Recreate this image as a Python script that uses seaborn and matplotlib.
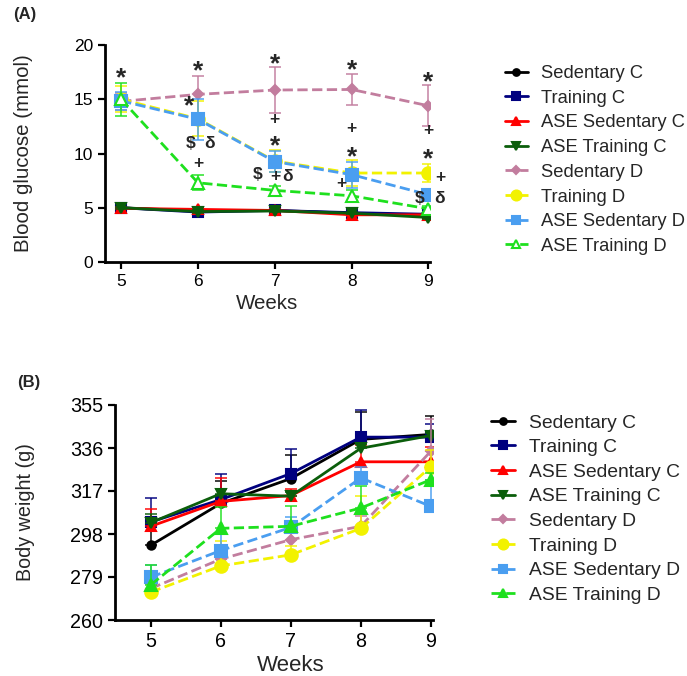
import numpy as np
import pandas as pd
import matplotlib
matplotlib.use('Agg')
import matplotlib.pyplot as plt
import seaborn as sns

sns.set_theme(style='ticks')
plt.rcParams['font.family'] = ['Liberation Sans', 'DejaVu Sans']

weeks = [5, 6, 7, 8, 9]
groups = ['Sedentary C', 'Training C', 'ASE Sedentary C', 'ASE Training C',
          'Sedentary D', 'Training D', 'ASE Sedentary D', 'ASE Training D']

# Panel A: blood glucose (mmol), mean and SEM
glu_sed_c = [5.0, 4.7, 4.75, 4.5, 4.3]
glu_tr_c = [5.0, 4.6, 4.75, 4.55, 4.4]
glu_ase_sed_c = [4.95, 4.85, 4.75, 4.35, 4.35]
glu_ase_tr_c = [5.0, 4.65, 4.7, 4.5, 4.1]
glu_sed_d = [14.8, 15.45, 15.85, 15.9, 14.4]
glu_tr_d = [15.0, 13.2, 9.3, 8.2, 8.2]
glu_ase_sed_d = [14.85, 13.15, 9.25, 8.05, 6.2]
glu_ase_tr_d = [15.0, 7.3, 6.6, 6.1, 4.9]

glu_err_sed_c = [0.1, 0.1, 0.1, 0.1, 0.1]
glu_err_tr_c = [0.1, 0.1, 0.1, 0.1, 0.1]
glu_err_ase_sed_c = [0.1, 0.1, 0.1, 0.1, 0.1]
glu_err_ase_tr_c = [0.1, 0.1, 0.1, 0.1, 0.1]
glu_err_sed_d = [0.8, 1.7, 2.1, 1.4, 1.9]
glu_err_tr_d = [1.2, 1.6, 1.0, 1.2, 0.8]
glu_err_ase_sed_d = [0.8, 1.9, 1.0, 1.2, 0.3]
glu_err_ase_tr_d = [1.5, 0.7, 0.4, 0.5, 0.3]

# Panel B: body weight (g), mean and SEM (drawn upward)
wt_sed_c = [293.0, 311.5, 322.5, 339.8, 342.0]
wt_tr_c = [303.3, 313.2, 324.7, 340.8, 340.8]
wt_ase_sed_c = [301.4, 312.4, 315.0, 329.9, 329.9]
wt_ase_tr_c = [303.0, 315.8, 314.7, 335.9, 341.5]
wt_sed_d = [273.9, 286.9, 295.5, 301.4, 334.6]
wt_tr_d = [272.3, 283.9, 288.8, 300.5, 327.7]
wt_ase_sed_d = [278.9, 290.7, 300.9, 322.8, 310.2]
wt_ase_tr_d = [275.5, 300.5, 301.4, 309.5, 322.0]

wt_err_sed_c = [10.0, 10.0, 10.5, 12.0, 8.3]
wt_err_tr_c = [10.8, 11.5, 10.8, 11.8, 5.6]
wt_err_ase_sed_c = [7.8, 10.3, 3.0, 7.4, 6.4]
wt_err_ase_tr_c = [4.0, 2.0, 2.0, 2.0, 1.0]
wt_err_sed_d = [2.0, 3.0, 3.0, 4.7, 14.0]
wt_err_tr_d = [6.0, 10.8, 4.0, 14.3, 7.4]
wt_err_ase_sed_d = [5.5, 7.8, 4.7, 5.0, 11.5]
wt_err_ase_tr_d = [9.0, 9.6, 8.9, 9.9, 3.0]

glu_means = [glu_sed_c, glu_tr_c, glu_ase_sed_c, glu_ase_tr_c,
             glu_sed_d, glu_tr_d, glu_ase_sed_d, glu_ase_tr_d]
glu_errs = [glu_err_sed_c, glu_err_tr_c, glu_err_ase_sed_c, glu_err_ase_tr_c,
            glu_err_sed_d, glu_err_tr_d, glu_err_ase_sed_d, glu_err_ase_tr_d]
wt_means = [wt_sed_c, wt_tr_c, wt_ase_sed_c, wt_ase_tr_c,
            wt_sed_d, wt_tr_d, wt_ase_sed_d, wt_ase_tr_d]
wt_errs = [wt_err_sed_c, wt_err_tr_c, wt_err_ase_sed_c, wt_err_ase_tr_c,
           wt_err_sed_d, wt_err_tr_d, wt_err_ase_sed_d, wt_err_ase_tr_d]

# Significance annotations for panel A: (symbol, week position, glucose level)
ann_symbols = ['*', '*', '*', '$', 'δ', '+',
               '*', '+', '*', '$', '+', 'δ',
               '*', '+', '*', '+',
               '*', '+', '*', '+', '$', 'δ']
ann_weeks = [5.0, 6.0, 5.88, 5.91, 6.15, 6.0,
             7.0, 7.0, 7.0, 6.77, 7.01, 7.17,
             8.0, 8.0, 8.0, 7.87,
             9.0, 9.0, 9.0, 9.16, 8.89, 9.15]
ann_levels = [17.4, 18.1, 14.9, 10.9, 10.9, 9.1,
              18.7, 13.1, 11.2, 8.1, 7.9, 7.9,
              18.2, 12.3, 10.2, 7.2,
              17.1, 12.1, 10.0, 7.8, 5.85, 5.85]

colors = ['#000000', '#00007F', '#FF0000', '#0B5E0B',
          '#C27D9E', '#F2F200', '#4A9EF0', '#1EE01E']
markers = ['o', 's', '^', 'v', 'D', 'o', 's', '^']
msizes = [6, 7, 7, 7, 5, 9, 8, 8]
lstyles = ['-', '-', '-', '-', '--', '--', '--', '--']

W, H = 687, 676
fig = plt.figure(figsize=(W / 100, H / 100), dpi=100)
axA = fig.add_axes([105 / W, 1 - 262 / H, 325 / W, 217 / H])
axB = fig.add_axes([115 / W, 1 - 620 / H, 318 / W, 215 / H])


def draw(ax, means, errs, upward, open_last):
    for i, g in enumerate(groups):
        df = pd.DataFrame({'week': weeks, 'value': means[i]})
        if upward:
            yerr = [np.zeros(len(weeks)), errs[i]]
        else:
            yerr = errs[i]
        ax.errorbar(df['week'], df['value'], yerr=yerr, fmt='none',
                    ecolor=colors[i], elinewidth=1.4, capsize=4, capthick=1.4,
                    alpha=0.75, zorder=2 + i)
        mfc = 'white' if (open_last and i == 7) else colors[i]
        sns.lineplot(data=df, x='week', y='value', ax=ax, color=colors[i],
                     marker=markers[i], markersize=msizes[i], linestyle=lstyles[i],
                     lw=2, markerfacecolor=mfc, markeredgecolor=colors[i],
                     markeredgewidth=1.5, label=g, zorder=3 + i)


draw(axA, glu_means, glu_errs, upward=False, open_last=True)
draw(axB, wt_means, wt_errs, upward=True, open_last=False)

for ax in (axA, axB):
    sns.despine(ax=ax)
    for s in ('left', 'bottom'):
        ax.spines[s].set_linewidth(2)
        ax.spines[s].set_color('black')
    ax.tick_params(axis='both', direction='out', length=5, width=1.6, colors='black')
    ax.set_xticks(weeks)

# Panel A
axA.set_xlim(4.79, 9.02)
axA.set_ylim(0, 20)
axA.set_yticks([0, 5, 10, 15, 20])
axA.tick_params(labelsize=12.5)
axA.set_xlabel('Weeks', fontsize=14.8, labelpad=4)
axA.set_ylabel('Blood glucose (mmol)', fontsize=14.8, labelpad=29)

for sym, wk, lv in zip(ann_symbols, ann_weeks, ann_levels):
    if sym == '*':
        axA.annotate(sym, (wk, lv), xytext=(0, -4), textcoords='offset points',
                     fontsize=19, ha='center', va='center', fontweight='bold',
                     zorder=20, annotation_clip=False)
    else:
        axA.annotate(sym, (wk, lv), xytext=(0, 0), textcoords='offset points',
                     fontsize=12.5, ha='center', va='center', fontweight='bold',
                     zorder=20, annotation_clip=False)

# Panel B
axB.set_xlim(4.49, 9.03)
axB.set_ylim(260, 355)
axB.set_yticks([260, 279, 298, 317, 336, 355])
axB.tick_params(labelsize=14.2)
axB.set_xlabel('Weeks', fontsize=16, labelpad=4)
axB.xaxis.set_label_coords(0.553, -0.163)
axB.set_ylabel('Body weight (g)', fontsize=14.2, labelpad=25)

# Legends
legA = axA.legend(loc='upper left', bbox_to_anchor=(505 / W, 1 - 65 / H),
                  bbox_transform=fig.transFigure, frameon=False, fontsize=13.2,
                  handlelength=1.25, handletextpad=0.7, labelspacing=0.42,
                  borderpad=0, borderaxespad=0, markerscale=0.8)
legB = axB.legend(loc='upper left', bbox_to_anchor=(491 / W, 1 - 414 / H),
                  bbox_transform=fig.transFigure, frameon=False, fontsize=13.9,
                  handlelength=1.25, handletextpad=0.72, labelspacing=0.37,
                  borderpad=0, borderaxespad=0, markerscale=0.8)

fig.text(13 / W, 1 - 15 / H, '(A)', fontsize=12, fontweight='bold', va='center')
fig.text(17 / W, 1 - 383 / H, '(B)', fontsize=12, fontweight='bold', va='center')

fig.savefig('out.png', dpi=100)
